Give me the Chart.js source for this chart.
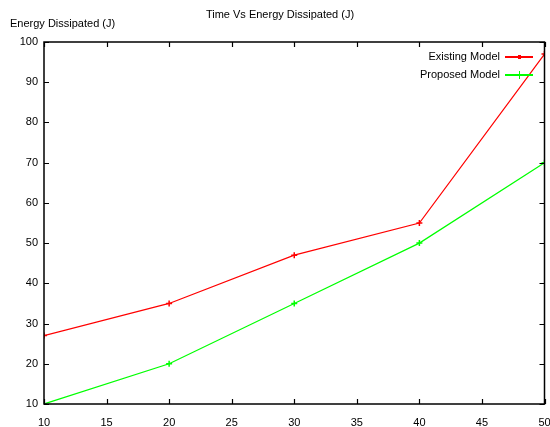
<!DOCTYPE html>
<html>
<head>
<meta charset="utf-8">
<script src="https://cdn.jsdelivr.net/npm/chart.js@4"></script>
<style>
  html, body { margin: 0; padding: 0; background: #fff; }
  #wrap { width: 550px; height: 427px; }
</style>
</head>
<body>
<div id="wrap"><canvas id="chart" width="550" height="427"></canvas></div>
<script>
// data
const timeValues = [10, 20, 30, 40, 50];
const existingModel = [27, 35, 47, 55, 97];
const proposedModel = [10, 20, 35, 50, 70];
const seriesNames = ["Existing Model", "Proposed Model"];
const seriesColors = ["#ff0000", "#00ff00"];

const FONT = "Liberation Sans";

// gnuplot style frame: box all round, short ticks pointing inward on all 4 sides
const framePlugin = {
    id: "frame",
    afterDraw(chart) {
        const { ctx, chartArea: a, scales } = chart;
        ctx.save();
        ctx.strokeStyle = "#000";
        ctx.lineWidth = 1.5;
        ctx.strokeRect(a.left, a.top, a.right - a.left, a.bottom - a.top);

        ctx.lineWidth = 1.2;
        ctx.beginPath();
        scales.x.ticks.forEach(t => {
            const px = Math.round(scales.x.getPixelForValue(t.value)) + 0.5;
            ctx.moveTo(px, a.bottom); ctx.lineTo(px, a.bottom - 5);
            ctx.moveTo(px, a.top); ctx.lineTo(px, a.top + 5);
        });
        scales.y.ticks.forEach(t => {
            const py = Math.round(scales.y.getPixelForValue(t.value)) + 0.5;
            ctx.moveTo(a.left, py); ctx.lineTo(a.left + 5, py);
            ctx.moveTo(a.right, py); ctx.lineTo(a.right - 5, py);
        });
        ctx.stroke();

        // title + y axis label
        ctx.fillStyle = "#000";
        ctx.font = "11px '" + FONT + "'";
        ctx.textBaseline = "middle";
        ctx.textAlign = "center";
        ctx.fillText("Time Vs Energy Dissipated (J)", 280, 15);
        ctx.textAlign = "left";
        ctx.fillText("Energy Dissipated (J)", 10, 24);

        // legend, top right inside the plot
        ctx.textAlign = "right";
        seriesNames.forEach((name, i) => {
            const y = 57 + i * 18;
            ctx.fillStyle = "#000";
            ctx.fillText(name, 500, y);
            ctx.fillStyle = seriesColors[i];
            ctx.fillRect(505, y - 1, 28, 2);
            if (i === 0) {
                ctx.fillRect(518, y - 2, 3, 4);
            } else {
                ctx.fillRect(519, y - 4, 1, 8);
            }
        });
        ctx.restore();
    }
};

new Chart(document.getElementById("chart").getContext("2d"), {
    type: "line",
    data: {
        datasets: [
            {
                label: seriesNames[0],
                data: timeValues.map((t, i) => ({ x: t, y: existingModel[i] })),
                borderColor: seriesColors[0],
                backgroundColor: seriesColors[0],
                borderWidth: 1.2,
                pointStyle: "cross",
                pointRadius: 3,
                pointBorderWidth: 1.5,
                tension: 0
            },
            {
                label: seriesNames[1],
                data: timeValues.map((t, i) => ({ x: t, y: proposedModel[i] })),
                borderColor: seriesColors[1],
                backgroundColor: seriesColors[1],
                borderWidth: 1.2,
                pointStyle: "cross",
                pointRadius: 3,
                pointBorderWidth: 1.5,
                tension: 0
            }
        ]
    },
    options: {
        responsive: false,
        animation: false,
        layout: { padding: { top: 42, right: 5, left: 0, bottom: 0 } },
        plugins: {
            legend: { display: false },
            title: { display: false },
            tooltip: { enabled: false }
        },
        scales: {
            x: {
                type: "linear",
                min: 10,
                max: 50,
                afterFit: s => { s.height = 23; s.paddingRight = 0; s.paddingLeft = 0; },
                ticks: {
                    stepSize: 5,
                    padding: 12,
                    color: "#000",
                    font: { family: FONT, size: 11 },
                    maxRotation: 0
                },
                grid: { display: false, drawTicks: false },
                border: { display: false }
            },
            y: {
                min: 10,
                max: 100,
                afterFit: s => { s.width = 44; s.paddingTop = 0; s.paddingBottom = 0; },
                ticks: {
                    stepSize: 10,
                    padding: 6,
                    color: "#000",
                    font: { family: FONT, size: 11 }
                },
                grid: { display: false, drawTicks: false },
                border: { display: false }
            }
        }
    },
    plugins: [framePlugin]
});
</script>
</body>
</html>
